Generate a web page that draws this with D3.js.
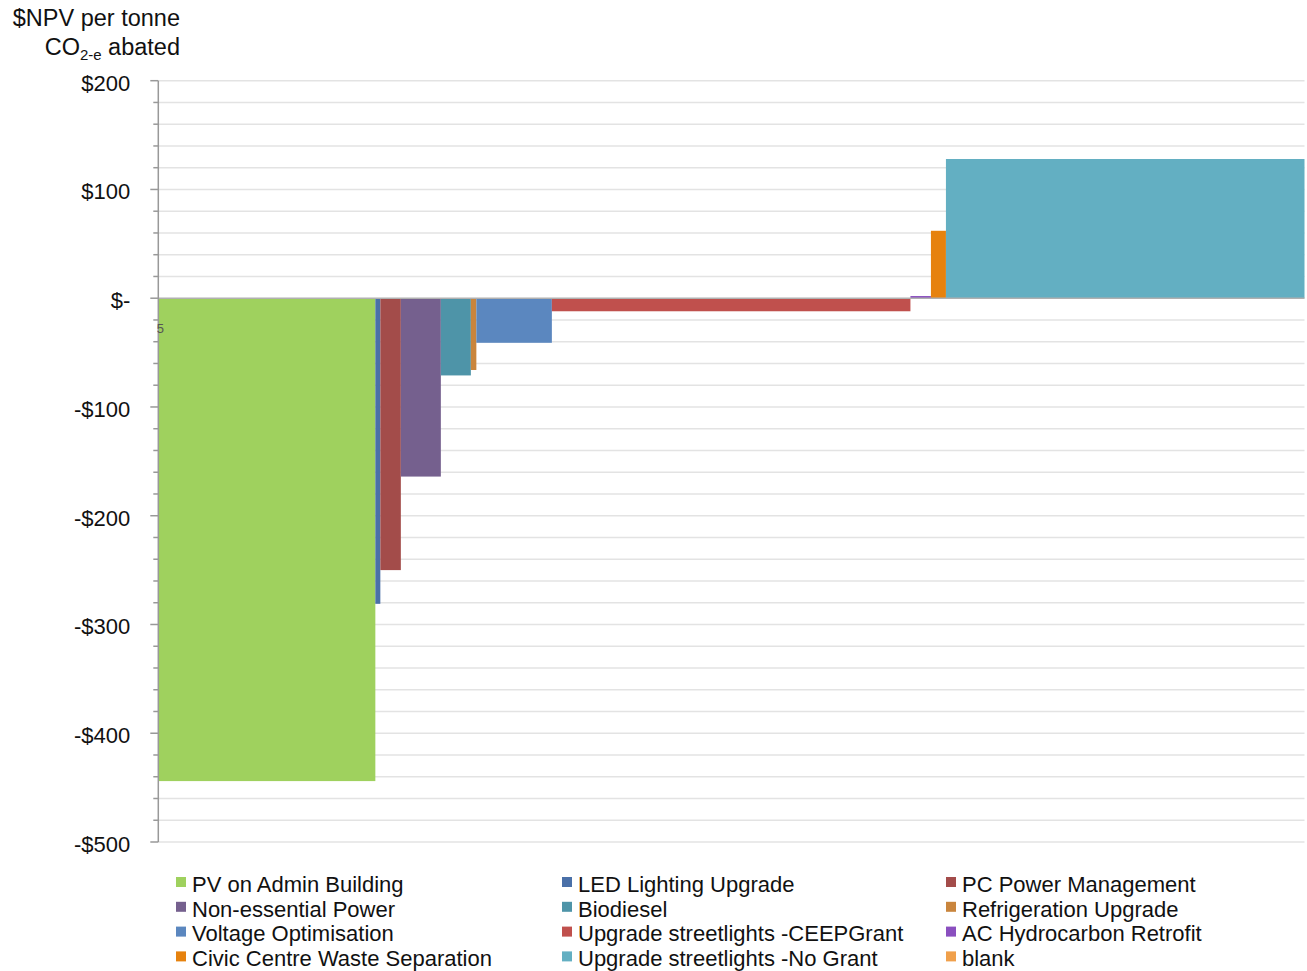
<!DOCTYPE html>
<html>
<head>
<meta charset="utf-8">
<script src="https://cdn.jsdelivr.net/npm/d3@7"></script>
<style>
  body { margin: 0; background: #fff; }
  svg { font-family: "Liberation Sans", Arial, sans-serif; }
</style>
</head>
<body>
<div id="chart"></div>
<script>
// Abatement options, in order along the curve
var categories = ["PV on Admin Building", "LED Lighting Upgrade", "PC Power Management",
    "Non-essential Power", "Biodiesel", "Refrigeration Upgrade",
    "Voltage Optimisation", "Upgrade streetlights -CEEPGrant", "AC Hydrocarbon Retrofit",
    "Civic Centre Waste Separation", "Upgrade streetlights -No Grant", "blank"];

// tonnes CO2-e abated (bar width) and $NPV per tonne (bar height)
var abatement = [43.4, 1.0, 4.1, 8.0, 6.0, 1.1, 15.1, 71.7, 4.1, 3.0, 71.7, 0];
var npvPerTonne = [-444, -281, -250, -164, -71, -66, -41, -12, 2, 62, 128, 0];

var yTicks = [200, 100, 0, -100, -200, -300, -400, -500];
var yTickLabels = ["$200", "$100", "$-", "-$100", "-$200", "-$300", "-$400", "-$500"];

var palette = ["#9fd15e", "#4a70a8", "#a34c4a", "#75608e", "#4e94a8", "#c9853d",
    "#5b87bf", "#c0504d", "#8a4fbf", "#e6820e", "#63afc2", "#f0a04b"];

var width = 1307, height = 971;
var plot = { left: 158.3, right: 1304.5, top: 80.7, bottom: 842 };

var svg = d3.select("#chart").append("svg")
    .attr("width", width)
    .attr("height", height);

// build cumulative positions
var rows = [];
var cum = 0;
categories.forEach(function (c, i) {
    rows.push({ name: c, x0: cum, x1: cum + abatement[i], v: npvPerTonne[i], color: palette[i] });
    cum += abatement[i];
});

var x = d3.scaleLinear()
    .domain([0, d3.sum(abatement)])
    .range([plot.left, plot.right]);

var y = d3.scaleLinear()
    .domain([-500, 200])
    .range([plot.bottom, plot.top]);

// gridlines every $20
var minor = d3.range(-500, 201, 20);
svg.append("g").selectAll("line")
    .data(minor.filter(function (d) { return d !== 0; }))
    .enter().append("line")
    .attr("x1", plot.left)
    .attr("x2", plot.right)
    .attr("y1", function (d) { return y(d); })
    .attr("y2", function (d) { return y(d); })
    .attr("stroke", "#e3e3e3")
    .attr("stroke-width", 1.5);

// bars
svg.append("g").selectAll("rect")
    .data(rows.filter(function (d) { return d.x1 > d.x0; }))
    .enter().append("rect")
    .attr("x", function (d) { return x(d.x0); })
    .attr("width", function (d) { return x(d.x1) - x(d.x0); })
    .attr("y", function (d) { return y(Math.max(0, d.v)); })
    .attr("height", function (d) { return Math.abs(y(d.v) - y(0)); })
    .attr("fill", function (d) { return d.color; });

// zero line
svg.append("line")
    .attr("x1", plot.left)
    .attr("x2", plot.right)
    .attr("y1", y(0))
    .attr("y2", y(0))
    .attr("stroke", "#b0b0b0")
    .attr("stroke-width", 1.5);

// y axis with minor ticks
var yAxis = svg.append("g")
    .attr("transform", "translate(" + plot.left + ",0)");

yAxis.append("line")
    .attr("y1", y(200))
    .attr("y2", y(-500))
    .attr("stroke", "#999")
    .attr("stroke-width", 1.5);

yAxis.selectAll(".minor")
    .data(minor)
    .enter().append("line")
    .attr("class", "minor")
    .attr("x1", function (d) { return d % 100 === 0 ? -8 : -5; })
    .attr("x2", 0)
    .attr("y1", function (d) { return y(d); })
    .attr("y2", function (d) { return y(d); })
    .attr("stroke", "#999")
    .attr("stroke-width", 1.5);

yAxis.selectAll(".lbl")
    .data(yTicks)
    .enter().append("text")
    .attr("class", "lbl")
    .attr("x", -28)
    .attr("y", function (d) { return y(d) + 2; })
    .attr("dy", "0.36em")
    .attr("text-anchor", "end")
    .attr("font-size", "22px")
    .attr("fill", "#111")
    .text(function (d, i) { return yTickLabels[i]; });

// stray x-axis tick label
svg.append("text")
    .attr("x", x(0) + 2)
    .attr("y", y(0) + 35)
    .attr("font-size", "13px")
    .attr("fill", "#555")
    .attr("text-anchor", "middle")
    .text("5");

// y axis title
svg.append("text")
    .attr("x", 180)
    .attr("y", 26)
    .attr("text-anchor", "end")
    .attr("font-size", "23.5px")
    .attr("fill", "#111")
    .text("$NPV per tonne");
var t2 = svg.append("text")
    .attr("x", 180)
    .attr("y", 55)
    .attr("text-anchor", "end")
    .attr("font-size", "23.5px")
    .attr("fill", "#111");
t2.append("tspan").text("CO");
t2.append("tspan").attr("font-size", "15px").attr("dy", 5).text("2-e");
t2.append("tspan").attr("dy", -5).text(" abated");

// legend, three columns, row-major
var colX = [176, 562, 946];
var legend = svg.append("g").selectAll("g")
    .data(rows)
    .enter().append("g")
    .attr("transform", function (d, i) {
        return "translate(" + colX[i % 3] + "," + (884 + Math.floor(i / 3) * 24.8) + ")";
    });

legend.append("rect")
    .attr("x", 0)
    .attr("y", -7)
    .attr("width", 10)
    .attr("height", 10)
    .attr("fill", function (d) { return d.color; });

legend.append("text")
    .attr("x", 16)
    .attr("y", 0)
    .attr("dy", "0.35em")
    .attr("font-size", "22px")
    .attr("fill", "#111")
    .text(function (d) { return d.name; });
</script>
</body>
</html>
